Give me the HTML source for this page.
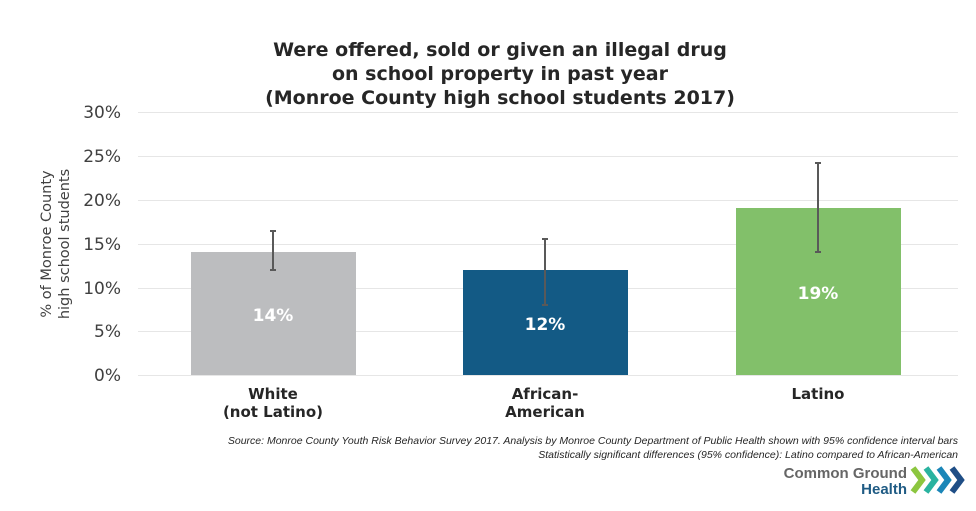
<!DOCTYPE html><html><head><style>body{margin:0;background:#fff}svg{display:block}</style></head><body>
<svg width="976" height="511" xmlns="http://www.w3.org/2000/svg" font-family="Verdana, 'DejaVu Sans', sans-serif">
<g text-anchor="middle" font-weight="bold" font-size="19" fill="#262626">
<text x="500" y="56">Were offered, sold or given an illegal drug</text>
<text x="500" y="80">on school property in past year</text>
<text x="500" y="104">(Monroe County high school students 2017)</text>
</g>
<g stroke="#e6e6e6" stroke-width="1">
<line x1="138" x2="958" y1="112.5" y2="112.5"/><line x1="138" x2="958" y1="156.5" y2="156.5"/>
<line x1="138" x2="958" y1="200.5" y2="200.5"/><line x1="138" x2="958" y1="244.5" y2="244.5"/>
<line x1="138" x2="958" y1="288.5" y2="288.5"/><line x1="138" x2="958" y1="331.5" y2="331.5"/>
<line x1="138" x2="958" y1="375.5" y2="375.5"/></g>
<g text-anchor="end" font-size="17" fill="#404040">
<text x="121" y="118">30%</text><text x="121" y="162">25%</text><text x="121" y="206">20%</text>
<text x="121" y="250">15%</text><text x="121" y="294">10%</text><text x="121" y="337">5%</text><text x="121" y="381">0%</text></g>
<g font-size="14.5" fill="#404040" text-anchor="middle">
<text transform="translate(51,244) rotate(-90)">% of Monroe County</text>
<text transform="translate(69,244) rotate(-90)">high school students</text></g>
<rect x="191" y="252" width="165" height="123" fill="#bcbdbf"/>
<rect x="463" y="270" width="165" height="105" fill="#135a85"/>
<rect x="736" y="208" width="165" height="167" fill="#82c06a"/>
<g stroke="#595959" stroke-width="2">
<line x1="273" x2="273" y1="231" y2="270"/><line x1="270" x2="276" y1="231" y2="231"/><line x1="270" x2="276" y1="270" y2="270"/>
<line x1="545" x2="545" y1="239" y2="305"/><line x1="542" x2="548" y1="239" y2="239"/><line x1="542" x2="548" y1="305" y2="305"/>
<line x1="818" x2="818" y1="163" y2="252"/><line x1="815" x2="821" y1="163" y2="163"/><line x1="815" x2="821" y1="252" y2="252"/></g>
<g fill="#fff" font-weight="bold" font-size="17" text-anchor="middle">
<text x="273" y="321">14%</text><text x="545" y="330">12%</text><text x="818" y="299">19%</text></g>
<g fill="#262626" font-weight="bold" font-size="15" text-anchor="middle">
<text x="273" y="399">White</text><text x="273" y="417">(not Latino)</text>
<text x="545" y="399">African-</text><text x="545" y="417">American</text>
<text x="818" y="399">Latino</text></g>
<g font-family="'Liberation Sans', sans-serif" font-style="italic" font-size="10.5" fill="#262626" text-anchor="end">
<text x="958" y="444">Source: Monroe County Youth Risk Behavior Survey 2017.  Analysis by Monroe County Department of Public Health shown with 95% confidence interval bars</text>
<text x="958" y="458">Statistically significant differences (95% confidence): Latino compared to African-American</text></g>
<g font-family="'Liberation Sans', sans-serif" font-weight="bold" font-size="15" text-anchor="end">
<text x="907" y="478" fill="#666">Common Ground</text><text x="907" y="494" fill="#1f5b84">Health</text></g>
<g stroke-width="6" fill="none" stroke-linejoin="miter">
<polyline points="913,468 922,480 913,492" stroke="#8cc63f"/>
<polyline points="926,468 935,480 926,492" stroke="#2ab3a0"/>
<polyline points="939,468 948,480 939,492" stroke="#1b86b8"/>
<polyline points="952,468 961,480 952,492" stroke="#1f4e86"/></g>
</svg></body></html>
